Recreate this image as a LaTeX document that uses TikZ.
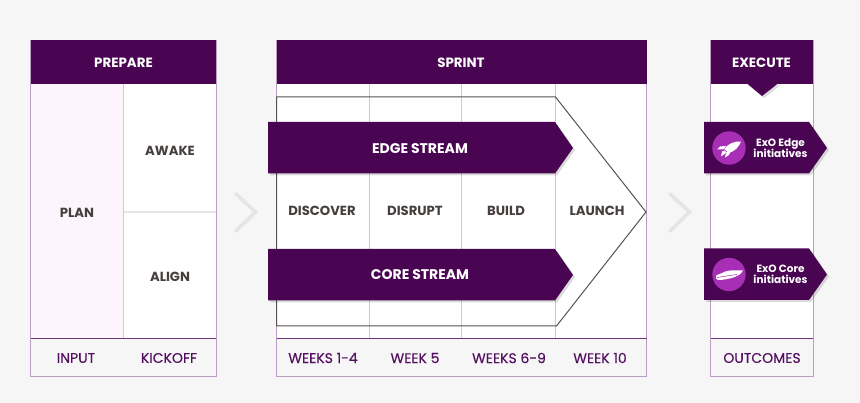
\documentclass[tikz,border=0pt]{standalone}
\usepackage{fontspec}
\setmainfont{Poppins}
\usetikzlibrary{shadows}
\definecolor{bgcol}{HTML}{F6F6F6}
\definecolor{headcol}{HTML}{4A0552}
\definecolor{framecol}{HTML}{BC9DC4}
\definecolor{plancol}{HTML}{FDF4FE}
\definecolor{inkcol}{HTML}{453F3D}
\definecolor{footcol}{HTML}{540F61}
\definecolor{iconcol}{HTML}{A72FB5}
\tikzset{
  head/.style={font=\bfseries\fontsize{13.4}{13.4}\selectfont,text=white},
  streamhead/.style={font=\bfseries\fontsize{14}{14}\selectfont,text=white},
  cell/.style={font=\bfseries\fontsize{13.2}{13.2}\selectfont,text=inkcol},
  foot/.style={font=\fontsize{14}{14}\selectfont\addfontfeature{FakeBold=0.25},text=footcol},
  tagtext/.style={font=\bfseries\fontsize{10.5}{11.6}\selectfont,text=white,align=center},
  purple shade/.style={fill=headcol,drop shadow={shadow xshift=2pt,shadow yshift=-2pt,opacity=0.14,fill=black}},
  gridline/.style={draw=black!20,line width=0.8pt},
  chevron/.style={draw=black!10,line width=3.6pt,line cap=round,line join=miter}
}
\begin{document}
\begin{tikzpicture}[x=1pt,y=-1pt]
  \useasboundingbox (0,0) rectangle (860,403);
  \fill[bgcol] (0,0) rectangle (860,403);
  % white panels
  \fill[white] (30.5,84) rectangle (216,338);
  \fill[plancol] (30.5,84) rectangle (123.5,338);
  \fill[white] (276.5,84) rectangle (646.5,338);
  \fill[white] (710.5,84) rectangle (813,338);
  % inner lines
  \draw[gridline] (123.5,84) -- (123.5,338);
  \draw[gridline,draw=black!10,line width=1.2pt] (123.5,212) -- (216,212);
  \foreach \x in {369,461,555} \draw[gridline] (\x,84) -- (\x,338);
  % frames
  \foreach \a/\b in {30.5/216,276.5/646.5,710.5/813} {
    \draw[framecol,line width=0.9pt] (\a,40.5) rectangle (\b,376);
    \draw[footcol!85,line width=1.1pt] (\a,338.5) -- (\b,338.5);
    \fill[headcol] (\a,40.5) rectangle (\b,84);
  }
  % sprint outline
  \draw[inkcol!90,line width=1pt] (276.5,97) -- (555.5,97) -- (646,212) -- (556.5,326) -- (276.5,326) -- cycle;
  % header notch
  \path[purple shade] (747,83.5) -- (762,96) -- (778,83.5) -- cycle;
  % chevrons
  \draw[chevron] (236,194) -- (255.5,212) -- (236,231);
  \draw[chevron] (670,194) -- (689.5,212) -- (670,231);
  % streams
  \foreach \y in {122,249} \path[purple shade] (268,\y) -- (555,\y) -- (573,\y+26) -- (555,\y+51.5) -- (268,\y+51.5) -- cycle;
  % tags
  \foreach \y in {122,248.5} {
    \path[purple shade] (704,\y) -- (809,\y) -- (827,\y+26) -- (809,\y+51.5) -- (704,\y+51.5) -- cycle;
    \fill[iconcol] (729,\y+26) circle (16.7);
  }
  % rocket
  \fill[white] (741,141.5) .. controls (734,141) and (728,144) .. (724,149) -- (729,153) .. controls (735,151) and (739,147) .. (741,141.5) -- cycle;
  \fill[white] (726,146) -- (720,146.5) -- (717,149.5) -- (723,149.5) -- cycle;
  \fill[white] (730.5,151.5) -- (729,155) -- (725,157.5) -- (726,152.5) -- cycle;
  \fill[white] (724.5,150.5) -- (726.5,152.5) -- (721,156.5) -- (722,151.5) -- cycle;
  % boat
  \fill[white] (716,275.5) -- (722,273) .. controls (726,270.5) and (732,270) .. (736,270.5) -- (743,270.5) .. controls (741,274) and (738,276) .. (735,277) .. controls (729,279) and (723,280) .. (718,280) -- (716,278.5) -- cycle;
  \draw[iconcol,line width=0.5pt] (717,277.5) -- (737,274.5);
  % labels
  \node[head] (prepare) at (123.5,63) {PREPARE};
  \node[head] (sprint) at (461,63) {SPRINT};
  \node[head] (execute) at (761.5,63) {EXECUTE};
  \node[cell] (plan) at (77,212.5) {PLAN};
  \node[cell] (awake) at (170,150.5) {AWAKE};
  \node[cell] (align) at (170,276.5) {ALIGN};
  \node[cell] (discover) at (322,211) {DISCOVER};
  \node[cell] (disrupt) at (415,211) {DISRUPT};
  \node[cell] (build) at (506,211) {BUILD};
  \node[cell] (launch) at (597,211) {LAUNCH};
  \node[streamhead] (edge) at (420,148.5) {EDGE STREAM};
  \node[streamhead] (core) at (420,275) {CORE STREAM};
  \node[tagtext] (edgetag) at (780.5,148) {ExO Edge\\initiatives};
  \node[tagtext] (coretag) at (780.5,274.5) {ExO Core\\initiatives};
  \node[foot] (input) at (76,358) {INPUT};
  \node[foot] (kickoff) at (169,358) {KICKOFF};
  \node[foot] (w14) at (323,358) {WEEKS 1-4};
  \node[foot] (w5) at (415,358) {WEEK 5};
  \node[foot] (w69) at (509,358) {WEEKS 6-9};
  \node[foot] (w10) at (600,358) {WEEK 10};
  \node[foot] (outcomes) at (762,358) {OUTCOMES};
\end{tikzpicture}
\end{document}
